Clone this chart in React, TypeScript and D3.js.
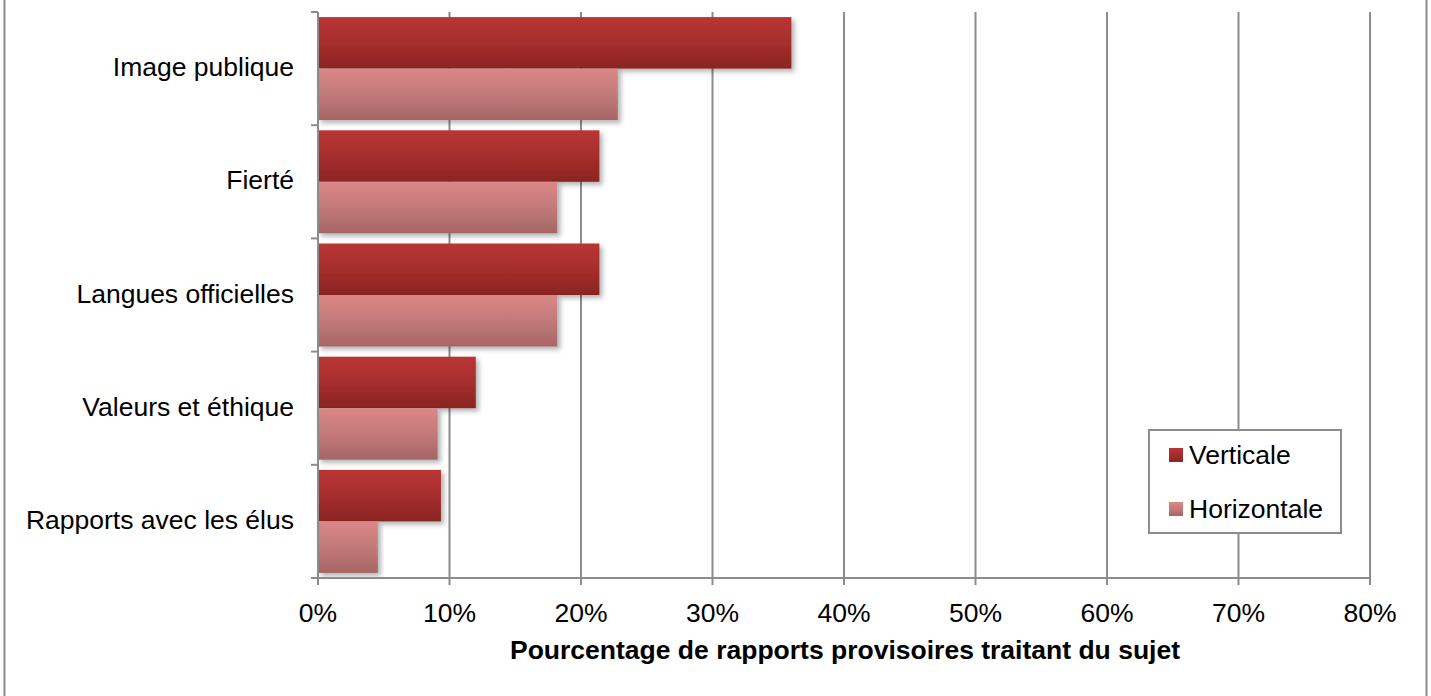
import React from "react";
import * as d3 from "d3";

const categories = ["Image publique", "Fierté", "Langues officielles", "Valeurs et éthique", "Rapports avec les élus"];
const verticale = [36.0, 21.4, 21.4, 12.0, 9.35];
const horizontale = [22.8, 18.2, 18.2, 9.1, 4.55];
const seriesNames = ["Verticale", "Horizontale"];
const xTicks = [0, 10, 20, 30, 40, 50, 60, 70, 80];
const axisTitle = "Pourcentage de rapports provisoires traitant du sujet";

const W = 1431, H = 696;
const left = 318, right = 1370, top = 12, bottom = 578;
const FONT = "'Liberation Sans', Arial, sans-serif";
const FS = 26.5;

export default function App() {
  const x = d3.scaleLinear().domain([0, 80]).range([left, right]);
  const y = d3.scaleBand<string>().domain(categories).range([top, bottom]).paddingInner(0.09).paddingOuter(0.045);
  const inner = d3.scaleBand<string>().domain(seriesNames).range([0, y.bandwidth()]);
  const bandStep = (bottom - top) / categories.length;
  const series = [verticale, horizontale];
  const fills = ["url(#gV)", "url(#gH)"];
  return (
    <svg width={W} height={H} style={{ position: "absolute", left: 0, top: 0 }}>
      <defs>
        <linearGradient id="gV" x1="0" y1="0" x2="0" y2="1">
          <stop offset="0" stopColor="#ba3533" />
          <stop offset="0.5" stopColor="#a62e2d" />
          <stop offset="1" stopColor="#8a2422" />
        </linearGradient>
        <linearGradient id="gH" x1="0" y1="0" x2="0" y2="1">
          <stop offset="0" stopColor="#da8886" />
          <stop offset="0.5" stopColor="#c27a79" />
          <stop offset="1" stopColor="#a66565" />
        </linearGradient>
        <filter id="sh" x="-5%" y="-20%" width="115%" height="150%">
          <feDropShadow dx="3" dy="3" stdDeviation="2.5" floodColor="#000" floodOpacity="0.3" />
        </filter>
      </defs>
      <rect x={0} y={0} width={W} height={H} fill="#fff" />
      {/* outer frame */}
      <line x1={4.5} y1={0} x2={4.5} y2={H} stroke="#8c8c8c" strokeWidth={2} />
      <line x1={1426.5} y1={0} x2={1426.5} y2={H} stroke="#8c8c8c" strokeWidth={2} />
      {/* gridlines */}
      {xTicks.slice(1).map((t) => (
        <line key={t} x1={x(t)} x2={x(t)} y1={top} y2={bottom + 7} stroke="#8c8c8c" strokeWidth={2} />
      ))}
      {/* bars */}
      {categories.map((c, i) =>
        series.map((s, j) => (
          <rect key={c + j} x={x(0)} y={(y(c) as number) + (inner(seriesNames[j]) as number)}
            width={x(s[i]) - x(0)} height={inner.bandwidth()} fill={fills[j]} filter="url(#sh)" />
        ))
      )}
      {/* y axis */}
      <line x1={left} x2={left} y1={top} y2={bottom} stroke="#8c8c8c" strokeWidth={2} />
      {d3.range(categories.length + 1).map((k) => (
        <line key={k} x1={left - 7} x2={left} y1={top + k * bandStep} y2={top + k * bandStep} stroke="#8c8c8c" strokeWidth={2} />
      ))}
      {/* x axis */}
      <line x1={left - 7} x2={right} y1={bottom} y2={bottom} stroke="#8c8c8c" strokeWidth={2} />
      <line x1={left} x2={left} y1={bottom} y2={bottom + 7} stroke="#8c8c8c" strokeWidth={2} />
      {xTicks.map((t) => (
        <text key={t} x={x(t)} y={622} textAnchor="middle" fontFamily={FONT} fontSize={FS} fill="#000">{t}%</text>
      ))}
      <text x={845} y={659} textAnchor="middle" fontFamily={FONT} fontSize={FS} fontWeight="bold" fill="#000">{axisTitle}</text>
      {categories.map((c) => (
        <text key={c} x={294} y={(y(c) as number) + y.bandwidth() / 2 + 7.5} textAnchor="end" fontFamily={FONT} fontSize={FS} fill="#000">{c}</text>
      ))}
      {/* legend */}
      <rect x={1149} y={430} width={192} height={103} fill="#fff" stroke="#8c8c8c" strokeWidth={2} />
      {seriesNames.map((n, j) => (
        <g key={n}>
          <rect x={1169} y={448 + j * 54} width={14} height={14} fill={fills[j]} />
          <text x={1189} y={464 + j * 54} fontFamily={FONT} fontSize={FS} fill="#000">{n}</text>
        </g>
      ))}
    </svg>
  );
}
